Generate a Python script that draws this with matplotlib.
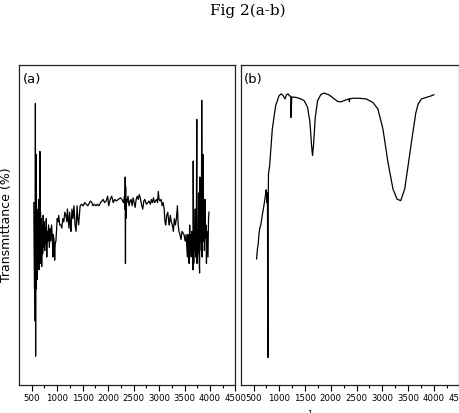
import matplotlib
matplotlib.use("Agg")
import matplotlib.pyplot as plt
from matplotlib import font_manager

# ---- data ----
wn_a = [540, 548, 555, 562, 568, 572, 576, 580, 585, 590, 595, 600, 605, 610, 615, 620, 628, 635,
        640, 648, 655, 660, 665, 672, 680, 688, 695, 705, 715, 725, 735, 745, 755, 765, 775, 785,
        795, 805, 815, 830, 845, 860, 875, 890, 905, 915, 925, 940, 950, 960, 975, 990, 1000, 1015,
        1030, 1050, 1070, 1090, 1110, 1130, 1150, 1170, 1190, 1200, 1215, 1230, 1245, 1260, 1270,
        1290, 1310, 1330, 1350, 1370, 1390, 1405, 1420, 1450, 1480, 1510, 1540, 1570, 1600, 1620,
        1650, 1680, 1700, 1730, 1760, 1790, 1820, 1850, 1880, 1900, 1930, 1960, 1990, 2010, 2040,
        2070, 2100, 2130, 2160, 2200, 2240, 2270, 2300, 2320, 2330, 2335, 2338, 2340, 2343, 2346,
        2350, 2370, 2390, 2410, 2430, 2450, 2470, 2490, 2510, 2530, 2550, 2570, 2590, 2610, 2630,
        2660, 2680, 2700, 2720, 2750, 2780, 2800, 2830, 2850, 2870, 2890, 2910, 2930, 2950, 2970,
        2985, 3000, 3020, 3040, 3060, 3080, 3100, 3115, 3130, 3150, 3170, 3190, 3200, 3220, 3240,
        3260, 3280, 3300, 3320, 3340, 3360, 3375, 3390, 3410, 3430, 3450, 3470, 3490, 3510, 3530,
        3545, 3555, 3565, 3575, 3590, 3600, 3610, 3620, 3630, 3645, 3655, 3665, 3670, 3680, 3690,
        3700, 3710, 3720, 3730, 3740, 3745, 3755, 3765, 3775, 3785, 3795, 3800, 3810, 3820, 3830,
        3837, 3845, 3855, 3863, 3870, 3880, 3890, 3900, 3910, 3920, 3930, 3940, 3950, 3960, 3970,
        3980]
t_a = [57, 40, 30, 50, 20, 88, 9, 60, 30, 72, 40, 55, 33, 52, 38, 47, 45, 58,
       36, 55, 40, 73, 38, 54, 42, 52, 37, 50, 41, 53, 43, 51, 42, 49, 44, 52,
       40, 48, 45, 50, 43, 49, 45, 50, 46, 40, 47, 45, 39, 44, 45, 49, 52, 51,
       53, 50, 50, 49, 52, 51, 54, 53, 51, 55, 52, 49, 54, 50, 48,
       55, 52, 56, 50, 48, 56, 52, 50, 56, 56.5, 56, 57, 56.5, 56, 56.5,
       57.5, 57, 56, 56.5, 56, 56.5, 56, 57, 57.5, 58, 57, 57.5, 59, 56, 58,
       59, 57, 58, 57.5, 58, 58.5, 58, 57, 59, 55, 65, 50, 38, 62, 52,
       58, 57, 59, 56, 57.5, 58, 56, 58.5, 57, 55.5, 58, 59, 58, 59.5, 58.5,
       56, 55, 57.5, 58, 56.5, 57, 57.5, 56.5, 58, 57, 58.5, 57, 57.5, 58, 57,
       60.5, 58, 57.5, 58, 56, 57, 55, 51, 50, 53, 54, 51, 50, 53, 51,
       50, 48, 52, 50, 52, 56, 50, 48, 47, 45.5, 48, 47.5, 47, 45, 47,
       43, 40, 47, 44, 38, 50, 42, 47, 40, 48, 45, 36, 70, 38, 48,
       42, 55, 40, 46, 83, 38, 48, 41, 60, 40, 35, 65, 45, 58, 42,
       89, 40, 60, 72, 45, 55, 42, 58, 46, 50, 38, 48, 44, 40, 52,
       54]

wn_b = [558, 575, 590, 604, 620, 640, 669, 690, 710, 734, 745, 760, 770, 778, 782, 790, 812,
        864, 929, 994, 1040, 1075, 1111, 1140, 1170, 1196, 1222, 1226, 1242, 1320, 1418, 1483,
        1548, 1594, 1626, 1645, 1665, 1697, 1743, 1808, 1873, 1971, 2069, 2134, 2199, 2297,
        2360, 2362, 2365, 2427, 2557, 2687, 2817, 2915, 3013, 3110, 3208, 3286, 3358, 3436,
        3501, 3585, 3650, 3696, 3761, 3859, 3924, 4002]
t_b = [39.4, 42.5, 44, 47, 49, 50, 53, 55, 57, 59.7, 61, 57, 60, 8.6, 55, 66, 68.5,
       80, 87.3, 90.4, 91, 90.4, 89.4, 90.7, 91, 90.4, 90.2, 83.6, 90.0, 89.9, 89.4, 88.85,
       86.8, 82.3, 75.0, 71.7, 75.0, 83.4, 88.85, 90.8, 91.25, 90.6, 89.4, 88.6, 88.5, 89.1,
       89.4, 88.5, 89.4, 89.6, 89.6, 89.4, 88.3, 86.25, 80.0, 69.6, 61.25, 58.1, 57.6, 61.25,
       68.5, 77.9, 84.9, 87.8, 89.4, 89.9, 90.2, 90.7]

panel_labels = ["(a)", "(b)"]
tick_vals = [500, 1000, 1500, 2000, 2500, 3000, 3500, 4000, 4500]

avail = {f.name for f in font_manager.fontManager.ttflist}
tick_font = "Liberation Sans Narrow" if "Liberation Sans Narrow" in avail else "DejaVu Sans"

fig = plt.figure(figsize=(4.6, 4.14), dpi=100)
W, H = 460, 414

def box(l, t, r, b):
    return [l / W, 1 - b / H, (r - l) / W, (b - t) / H]

ax_a = fig.add_axes(box(19, 66, 235.5, 386))
ax_b = fig.add_axes(box(240.7, 66, 459.5, 386))

for ax, wn, t, lab in [(ax_a, wn_a, t_a, panel_labels[0]), (ax_b, wn_b, t_b, panel_labels[1])]:
    ax.plot(wn, t, color="black", lw=0.9)
    ax.set_xlim(250, 4500)
    ax.set_ylim(0, 100)
    ax.set_yticks([])
    ax.set_xticks(tick_vals)
    ax.set_xticks([750, 1250, 1750, 2250, 2750, 3250, 3750, 4250], minor=True)
    ax.set_xticklabels([str(v) for v in tick_vals], fontsize=6.2, family=tick_font)
    ax.tick_params(axis="x", which="major", length=4, width=0.8, pad=2, direction="out")
    ax.tick_params(axis="x", which="minor", length=2.5, width=0.8, direction="out")
    for s in ax.spines.values():
        s.set_linewidth(0.9)
        s.set_color("#222222")
    ax.text(0.016, 0.958, lab, transform=ax.transAxes, fontsize=9.5,
            family="DejaVu Sans", ha="left", va="center")

fig.text(248 / W, 1 - 11 / H, "Fig 2(a-b)", family="DejaVu Serif", fontsize=11,
         ha="center", va="center")
fig.text(7 / W, 1 - 225 / H, "Transmittance (%)", rotation=90, fontsize=9,
         family="DejaVu Sans", ha="center", va="center")
fig.text(318 / W, 1 - 408 / H, "Wavenumber (cm$^{-1}$)", fontsize=8,
         family="DejaVu Sans", ha="right", va="top")

fig.savefig("out.png", dpi=100)
